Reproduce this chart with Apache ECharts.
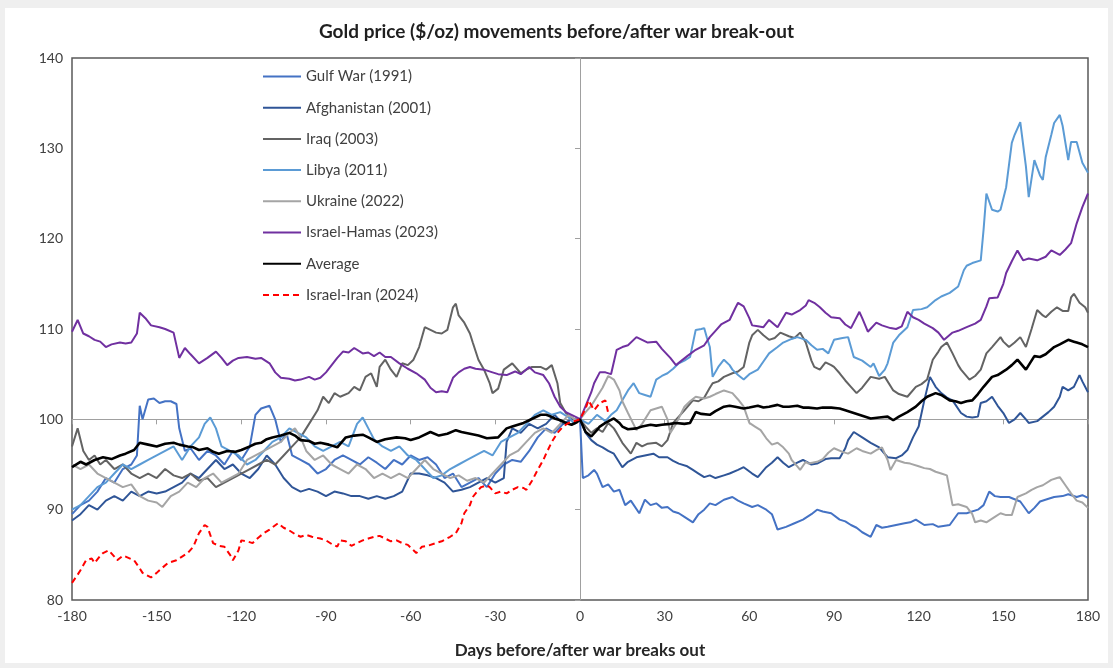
<!DOCTYPE html>
<html>
<head>
<meta charset="utf-8">
<script src="https://cdn.jsdelivr.net/npm/echarts@6.0.0/dist/echarts.min.js"></script>
<style>
html,body{margin:0;padding:0;background:#efefef;}
#chart{width:1113px;height:668px;}
</style>
</head>
<body>
<div id="chart"></div>
<script>
// ---- Data (days relative to war break-out, gold price index = 100 at day 0) ----
const seriesNames = ['Gulf War (1991)','Afghanistan (2001)','Iraq (2003)','Libya (2011)','Ukraine (2022)','Israel-Hamas (2023)','Average','Israel-Iran (2024)'];
const xTicks = [-180,-150,-120,-90,-60,-30,0,30,60,90,120,150,180];
const yTicks = [80,90,100,110,120,130,140];

const gulfWar = [[-180,89.5],[-177,90.5],[-174,91],[-171,92],[-168,93.5],[-165,93],[-162,94.5],[-159,95],[-157,96],[-156,101.5],[-155,100],[-153,102.2],[-151,102.3],[-149,101.8],[-147,102],[-145,102],[-143,101.7],[-142,99],[-140,96.5],[-138,96.8],[-135,95.5],[-132,96.5],[-129,96],[-126,95],[-123,96.5],[-120,95.5],[-117,97],[-115,100.5],[-113,101.2],[-110,101.5],[-108,100],[-106,97.5],[-104,98.5],[-102,96],[-99,95.5],[-96,95],[-93,94],[-90,94.5],[-87,95.5],[-84,96],[-81,95.5],[-78,95],[-75,95.8],[-72,95.2],[-69,94.5],[-66,95.5],[-63,95],[-60,96],[-57,95.5],[-54,95.8],[-51,95],[-48,93.5],[-45,94],[-42,92.5],[-39,93],[-36,93.5],[-33,92.5],[-30,94],[-27,95],[-24,95.5],[-21,95.3],[-18,96.5],[-15,98],[-12,99],[-9,98.5],[-6,99.5],[-3,100],[0,100],
[1,93.5],[3,93.8],[5,94.4],[6,94],[8,92.5],[10,92.8],[12,92.0],[14,92.2],[16,90.5],[18,91],[21,89.6],[23,91.1],[25,90.5],[27,90.7],[29,90.2],[31,90.3],[33,89.8],[35,89.6],[37,89.2],[40,88.6],[42,89.5],[44,90.0],[46,90.7],[48,90.5],[51,91.1],[54,91.4],[56,91],[58,90.7],[61,90.3],[63,90.5],[66,90.0],[68,89.5],[70,87.8],[73,88.1],[76,88.5],[79,88.9],[82,89.5],[84,90.0],[86,89.8],[89,89.6],[92,88.9],[94,88.7],[96,88.3],[98,88],[100,87.5],[103,87.0],[105,88.3],[107,88],[109,88.1],[112,88.3],[115,88.5],[117,88.6],[119,88.9],[122,88.3],[125,88.4],[127,88.1],[131,88.3],[134,89.6],[137,89.6],[141,90.0],[143,90.5],[145,92.0],[147,91.5],[149,91.4],[152,91.4],[156,90.9],[159,89.6],[161,90.2],[163,90.9],[166,91.2],[168,91.4],[171,91.5],[173,91.7],[176,91.4],[178,91.6],[180,91.3]];

const afghanistan = [[-180,88.8],[-177,89.5],[-174,90.5],[-171,90],[-168,91],[-165,91.5],[-162,91],[-159,92],[-156,91.5],[-153,92],[-150,91.8],[-147,92],[-144,92.5],[-141,93],[-138,94],[-135,93.5],[-132,94.5],[-129,95.5],[-126,94.5],[-123,95],[-120,94],[-117,93.5],[-114,94.5],[-111,96],[-108,95],[-105,93.5],[-102,92.5],[-99,92],[-96,92.3],[-93,92],[-90,91.5],[-87,92],[-84,91.8],[-81,91.5],[-78,91.5],[-75,91.2],[-72,91.5],[-69,91.2],[-66,91.5],[-63,92],[-60,94],[-57,94],[-54,93.8],[-51,93.5],[-48,93],[-45,92],[-42,92.2],[-39,92.5],[-36,93],[-33,93.5],[-30,93],[-27,93.5],[-26,97.5],[-24,99],[-21,98.5],[-18,99.5],[-15,99],[-12,99.5],[-9,100.5],[-6,99.5],[-3,100],[0,100],
[2,98.5],[4,97.7],[6,97.2],[8,96.9],[10,96.5],[12,96.2],[15,94.7],[17,95.3],[20,95.8],[23,96.0],[26,96.2],[28,95.8],[31,95.8],[33,95.4],[35,95.1],[38,94.8],[40,94.4],[42,94.0],[44,93.6],[46,93.8],[48,93.5],[51,93.8],[53,94.0],[56,94.4],[58,94.7],[61,94.0],[63,93.6],[66,94.7],[68,95.2],[70,95.8],[72,95.2],[74,94.7],[77,95.2],[79,95.5],[82,95.0],[84,95.1],[87,95.6],[89,95.7],[92,95.7],[94,96.8],[95,97.7],[97,98.6],[100,98.0],[103,97.4],[106,96.9],[109,95.8],[112,95.7],[114,96.0],[116,96.6],[118,98.0],[120,99.2],[122,102.1],[124,104.7],[126,103.6],[128,102.9],[130,102.4],[132,102.1],[135,100.7],[137,100.3],[139,100.2],[141,100.3],[142,101.8],[144,102.0],[146,102.5],[148,101.5],[150,100.7],[152,99.6],[154,100.0],[156,100.7],[158,100.0],[159,99.6],[162,99.8],[164,100.3],[166,100.8],[168,101.4],[170,102.5],[171,103.6],[173,103.2],[175,103.6],[177,104.9],[178,104.2],[180,103.0]];

const iraq = [[-180,97],[-178,99],[-176,96.5],[-174,95.5],[-172,96],[-170,95],[-168,95.5],[-165,94.5],[-162,95],[-159,94],[-156,93.5],[-153,94],[-150,93.5],[-147,94.5],[-144,93.8],[-141,93.5],[-138,94],[-135,93.2],[-132,93.5],[-129,92.5],[-126,93],[-123,93.5],[-120,94],[-117,94.5],[-114,95],[-111,95.5],[-108,95],[-105,96],[-102,97],[-99,98],[-96,99.5],[-93,101],[-91,102.5],[-89,101.8],[-87,102.9],[-85,102.5],[-82,102.9],[-80,103.6],[-78,103.2],[-76,104.7],[-74,105.1],[-72,103.6],[-71,105.8],[-69,106.6],[-67,105.5],[-65,104.7],[-63,106.2],[-61,106],[-59,106.6],[-57,108],[-55,110.2],[-53,109.9],[-51,109.6],[-49,109.5],[-47,109.9],[-45,112.4],[-44,112.8],[-43,111.5],[-41,110.7],[-39,109.5],[-38,108.5],[-36,106.6],[-34,105.5],[-32,104],[-31,102.9],[-29,103.4],[-27,105.5],[-24,106.2],[-21,105.1],[-19,105.5],[-17,105.8],[-14,105.8],[-12,105.5],[-10,106],[-8,104],[-7,101.8],[-5,100.7],[-2,100],[0,100],
[2,99.2],[4,98.5],[6,99.0],[8,98.6],[10,99.6],[12,99.0],[13,98.5],[15,97.4],[18,96.2],[20,97.4],[22,97.0],[24,97.3],[27,97.4],[29,97.0],[31,97.7],[33,99.6],[35,100.3],[37,101.0],[40,102.1],[42,102.0],[44,102.4],[46,103.5],[47,104.0],[49,104.2],[51,104.7],[54,105.1],[56,105.3],[58,105.8],[60,108.5],[61,109.3],[63,109.9],[65,109.3],[67,108.8],[69,109.0],[71,109.6],[74,109.2],[76,109.0],[78,109.6],[80,108.5],[82,106.5],[83,105.8],[85,105.5],[87,106.3],[89,106.0],[90,105.8],[92,105.1],[94,104.3],[96,103.6],[98,102.9],[100,103.5],[103,104.7],[106,104.5],[108,104.7],[111,103.2],[113,102.8],[116,102.5],[119,103.6],[121,103.9],[123,104.4],[125,106.6],[127,107.5],[128,108.0],[130,108.5],[132,107.3],[134,106.0],[135,105.5],[138,104.4],[140,104.8],[142,105.5],[144,107.3],[146,108.0],[149,109.1],[150,108.6],[152,108.0],[154,108.5],[156,109.1],[158,108.0],[160,110.0],[162,112.1],[164,111.5],[165,111.3],[167,111.9],[169,112.4],[171,112.0],[173,112.0],[174,113.5],[175,113.9],[177,112.9],[179,112.4],[180,111.8]];

const libya = [[-180,90],[-177,90.5],[-174,91.5],[-171,92.5],[-168,93],[-165,94],[-162,95],[-159,94.5],[-156,95],[-153,95.5],[-150,96],[-147,96.5],[-144,97],[-141,95.5],[-138,97],[-135,98],[-133,99.5],[-131,100.2],[-129,99],[-127,97],[-124,96.5],[-121,96],[-118,95],[-115,95.5],[-112,96.5],[-109,97.5],[-106,98],[-103,99],[-100,98.5],[-97,98],[-94,97],[-91,96.5],[-88,97],[-85,97.5],[-82,97],[-79,99.5],[-77,100.2],[-75,99],[-73,97.8],[-70,97],[-67,96.5],[-64,97],[-61,96],[-58,95.5],[-55,94.5],[-52,93.5],[-49,93.8],[-46,94.5],[-43,95],[-40,95.5],[-37,96],[-34,96.5],[-31,96],[-28,97.5],[-25,98],[-22,98.5],[-19,99.5],[-16,100.5],[-13,101],[-10,100.5],[-7,100.8],[-4,100.2],[-2,99.5],[0,100],
[3,99.5],[6,100.5],[9,99.8],[11,100.5],[13,101.0],[15,102.1],[17,103.2],[19,104.0],[21,102.9],[23,102.7],[25,102.5],[27,104.4],[29,104.8],[31,105.1],[33,105.6],[35,106.2],[37,106.5],[39,106.9],[41,109.9],[43,110.0],[44,110.1],[45,109.0],[46,108.0],[47,104.7],[49,105.8],[51,106.6],[53,106.0],[54,105.5],[56,104.9],[58,104.4],[60,105.0],[63,105.5],[65,106.4],[67,107.3],[70,108.0],[72,108.5],[75,108.9],[77,109.1],[80,108.8],[82,108.2],[84,107.7],[86,107.8],[88,107.3],[90,108.8],[93,109.0],[95,109.1],[97,106.9],[100,106.5],[103,105.8],[104,106.2],[106,104.8],[108,105.5],[109,106.2],[111,108.5],[113,109.3],[116,110.2],[118,112.1],[121,112.2],[123,112.4],[126,113.2],[128,113.6],[131,114.0],[134,114.7],[136,116.5],[137,117.0],[139,117.3],[142,117.6],[143,121.0],[144,125.0],[146,123.2],[148,123.0],[149,123.2],[151,125.7],[153,130.6],[154,131.5],[156,132.9],[158,128.0],[159,124.6],[161,128.7],[163,127.0],[164,126.5],[165,129.0],[167,131.5],[168,132.8],[170,133.7],[171,132.5],[173,128.7],[174,130.7],[176,130.7],[178,128.4],[180,127.3]];

const ukraine = [[-180,95],[-177,94.5],[-174,95],[-171,94],[-168,93.5],[-165,93],[-162,92.5],[-159,92.8],[-156,91.5],[-153,91],[-150,90.8],[-148,90.3],[-145,91.5],[-142,92],[-139,93],[-136,92.5],[-133,93.5],[-130,94],[-127,93],[-124,93.5],[-121,94],[-118,95.5],[-115,96],[-112,96.5],[-109,97],[-106,97.5],[-103,98.5],[-101,99],[-99,98],[-97,96.5],[-94,95.5],[-91,96],[-88,95],[-85,94.5],[-82,94],[-79,95],[-76,94.5],[-73,93.5],[-70,94],[-67,93.5],[-64,94],[-61,93.5],[-58,94.5],[-55,95.5],[-52,94.5],[-49,94],[-46,93.5],[-43,93.8],[-40,93.2],[-37,93.5],[-34,93],[-31,94],[-28,95],[-25,96],[-22,96.5],[-19,97.5],[-16,98.5],[-13,99],[-10,98.5],[-7,99.5],[-4,100.5],[-2,100],[0,100],
[2,100.8],[4,101.5],[6,102.5],[8,103.5],[10,104.8],[12,104.4],[14,103.2],[15,102],[17,100.7],[20,98.8],[22,99.5],[25,101.0],[27,101.2],[29,101.4],[31,100],[32,98.5],[34,99.5],[37,101.4],[39,102],[41,102.5],[44,102.3],[46,102.5],[48,102.8],[51,103.2],[54,102.9],[56,102.2],[58,101.4],[60,99.6],[62,99.2],[64,98.8],[66,97.9],[68,97.2],[70,97.4],[72,96.9],[74,96.2],[75,95.5],[77,94.8],[78,94.4],[80,95.3],[81,95.1],[84,95.3],[86,95.6],[88,96.3],[90,96.8],[93,96.4],[95,96.2],[98,96.8],[100,96.5],[103,96.2],[105,96.6],[107,96.9],[109,95.5],[110,94.4],[112,95.5],[115,95.2],[117,95.1],[120,94.8],[122,94.6],[124,94.5],[126,94.2],[128,94.0],[130,93.8],[132,90.5],[134,90.6],[137,90.3],[139,89.5],[140,88.6],[142,88.8],[144,88.6],[147,89.2],[149,89.6],[151,89.4],[153,89.4],[155,91.4],[158,91.8],[160,92.2],[162,92.5],[164,92.7],[167,93.3],[169,93.5],[170,93.6],[172,92.7],[174,91.8],[176,91.0],[178,90.8],[180,90.2]];

const israelHamas = [[-180,109.7],[-178,111],[-176,109.5],[-174,109.2],[-172,108.8],[-170,108.6],[-168,108.0],[-166,108.3],[-163,108.5],[-161,108.4],[-159,108.5],[-157,109.5],[-156,111.8],[-154,111.2],[-152,110.4],[-149,110.2],[-147,110.0],[-144,109.6],[-142,106.8],[-140,107.9],[-138,107.2],[-135,106.2],[-132,106.8],[-129,107.5],[-127,106.8],[-125,106.0],[-123,106.5],[-121,106.8],[-118,106.9],[-115,106.7],[-113,106.8],[-110,106.2],[-108,105.2],[-106,104.6],[-103,104.5],[-101,104.3],[-99,104.4],[-96,104.7],[-94,104.4],[-92,104.6],[-90,105.2],[-88,106],[-86,106.8],[-84,107.5],[-82,107.4],[-80,107.9],[-77,107.3],[-75,107.4],[-73,107.0],[-71,107.4],[-69,106.9],[-67,106.9],[-64,106.2],[-61,105.6],[-58,105.1],[-55,104.4],[-53,103.5],[-51,103.0],[-49,103.1],[-47,103.0],[-45,104.6],[-43,105.2],[-41,105.6],[-39,105.8],[-37,105.6],[-34,105.5],[-31,105.2],[-29,105.0],[-26,104.9],[-23,105.3],[-21,105.0],[-18,105.8],[-16,105.2],[-13,104.9],[-11,104.0],[-9,102.5],[-7,101.4],[-5,100.8],[-3,100.5],[-1,100.2],[0,100],
[2,101.5],[4,103],[5,104],[7,105.2],[9,105.2],[11,105],[13,107.7],[15,108],[17,108.2],[20,109.1],[22,108.8],[24,108.5],[27,108.6],[29,107.8],[32,106.8],[34,106.0],[36,106.5],[38,107.0],[41,107.7],[44,108.2],[46,109.1],[48,109.8],[50,110.5],[53,111.0],[55,112.3],[56,112.9],[58,112.5],[60,111.2],[61,110.4],[63,110.3],[65,110.2],[67,111.0],[70,110.2],[73,111.8],[75,111.6],[78,112.1],[80,112.6],[81,113.2],[83,112.9],[85,112.4],[87,111.8],[89,111.3],[92,111.2],[94,110.5],[96,110.1],[99,111.9],[100,111.2],[102,109.7],[105,110.7],[107,110.4],[110,110.1],[112,110.0],[114,110.3],[116,111.9],[118,111.3],[120,111.0],[122,110.6],[125,110.1],[127,109.6],[129,108.8],[132,109.6],[134,109.8],[137,110.2],[140,110.6],[142,111.0],[144,112.5],[145,113.4],[148,113.5],[150,115],[151,116.2],[153,117.5],[155,118.7],[157,117.6],[159,117.8],[162,117.6],[165,118.0],[167,118.7],[170,118.2],[172,118.8],[174,119.5],[176,121.7],[178,123.5],[180,125.0]];

const average = [[-180,94.7],[-177,95.3],[-175,95.0],[-172,95.5],[-169,95.8],[-166,95.6],[-163,96.0],[-161,96.2],[-158,96.6],[-156,97.4],[-153,97.2],[-150,97.0],[-147,97.3],[-144,97.4],[-142,97.2],[-139,97.0],[-137,96.9],[-135,96.6],[-132,96.8],[-130,96.4],[-128,96.2],[-125,96.5],[-122,96.4],[-120,96.6],[-117,97.0],[-115,97.3],[-113,97.4],[-111,97.8],[-109,98.0],[-106,98.2],[-103,98.5],[-101,98.2],[-99,97.7],[-96,97.6],[-94,97.3],[-92,97.4],[-89,97.2],[-86,96.9],[-83,98.0],[-80,98.2],[-77,98.3],[-75,98.0],[-72,97.5],[-69,97.8],[-65,98.0],[-62,97.9],[-60,97.7],[-57,98.0],[-53,98.6],[-50,98.2],[-47,98.4],[-44,98.8],[-42,98.6],[-39,98.4],[-36,98.2],[-33,97.9],[-29,98.0],[-26,99.0],[-24,99.2],[-22,99.4],[-20,99.6],[-18,99.9],[-16,100.2],[-14,100.5],[-12,100.5],[-11,100.4],[-9,100.1],[-7,99.9],[-5,99.6],[-3,99.4],[-1,99.7],[0,100],
[2,98.6],[4,98.1],[6,98.8],[7,99.2],[9,99.6],[12,100.1],[14,99.6],[15,99.2],[17,98.9],[20,99.0],[22,99.2],[25,99.4],[27,99.3],[29,99.4],[32,99.5],[34,99.6],[37,99.5],[39,99.6],[41,100.8],[43,100.6],[46,100.5],[48,100.9],[51,101.4],[53,101.5],[55,101.4],[58,101.2],[60,101.3],[63,101.5],[65,101.3],[67,101.4],[70,101.6],[72,101.4],[74,101.4],[77,101.5],[79,101.3],[81,101.3],[84,101.2],[86,101.3],[89,101.3],[92,101.2],[94,101.0],[97,100.7],[100,100.4],[103,100.1],[106,100.2],[109,100.3],[111,99.9],[113,100.3],[116,100.8],[119,101.4],[121,102.0],[123,102.5],[126,102.9],[128,102.7],[131,102.1],[133,102.0],[135,101.8],[137,102.0],[139,102.1],[141,102.8],[143,103.6],[146,104.7],[148,104.9],[151,105.5],[153,106.0],[155,106.6],[158,105.5],[161,107.0],[163,106.9],[165,107.2],[168,108.0],[170,108.3],[173,108.8],[175,108.6],[176,108.5],[178,108.3],[180,108.0]];

const israelIran = [[-180,81.9],[-178,82.8],[-177,83.3],[-175,84.4],[-173,84.6],[-172,84.1],[-170,84.9],[-169,85.2],[-167,85.5],[-165,84.8],[-164,84.4],[-162,84.9],[-161,84.8],[-158,84.4],[-156,83.5],[-155,83.0],[-152,82.5],[-150,83.0],[-149,83.3],[-146,84.1],[-143,84.4],[-141,84.8],[-139,85.2],[-137,85.9],[-135,87.4],[-133,88.3],[-132,88.1],[-130,86.3],[-128,86.0],[-126,85.9],[-124,85.0],[-123,84.4],[-121,85.5],[-120,86.6],[-118,86.5],[-116,86.3],[-114,86.9],[-112,87.4],[-110,87.8],[-107,88.5],[-105,88.0],[-103,87.7],[-101,87.3],[-99,87.0],[-97,87.2],[-95,87.0],[-92,86.8],[-90,86.6],[-88,86.2],[-86,85.9],[-85,86.6],[-83,86.5],[-81,86.0],[-79,86.3],[-77,86.6],[-75,86.8],[-73,87.0],[-71,87.1],[-69,86.8],[-67,86.5],[-65,86.6],[-63,86.3],[-61,86.1],[-59,85.5],[-58,85.2],[-56,85.9],[-54,86.0],[-51,86.3],[-49,86.5],[-46,87.0],[-44,87.4],[-42,88.5],[-41,89.6],[-39,90.5],[-38,91.4],[-36,92.2],[-35,92.5],[-33,92.7],[-32,92.5],[-30,91.8],[-28,92.0],[-26,91.8],[-24,92.2],[-22,92.5],[-20,92.4],[-19,92.2],[-17,93.2],[-15,94.4],[-13,95.5],[-12,96.2],[-10,97.5],[-8,98.5],[-6,99.2],[-4,99.6],[-2,99.8],[0,100],[2,101.2],[3,102.1],[5,101.0],[7,101.8],[9,102.1],[10,100.7]];

const seriesData = [gulfWar, afghanistan, iraq, libya, ukraine, israelHamas, average, israelIran];
const seriesColors = ['#4472C4','#2F5597','#636363','#5B9BD5','#A5A5A5','#7030A0','#000000','#FF0000'];

const FONT = 'Lato, "Open Sans", "Noto Sans", sans-serif';
const chart = echarts.init(document.getElementById('chart'), null, {renderer:'canvas'});

const series = seriesNames.map((name, i) => ({
  name: name,
  type: 'line',
  xAxisIndex: 0,
  yAxisIndex: 0,
  data: seriesData[i],
  showSymbol: false,
  symbol: 'none',
  smooth: false,
  silent: true,
  z: 3 + i,
  lineStyle: {
    color: seriesColors[i],
    width: name === 'Average' ? 2.6 : 2,
    type: name === 'Israel-Iran (2024)' ? [6, 4] : 'solid'
  },
  itemStyle: {color: seriesColors[i]}
}));

const option = {
  animation: false,
  backgroundColor: '#efefef',
  textStyle: {fontFamily: FONT},
  graphic: {
    elements: [{
      type: 'rect', silent: true, z: -100,
      shape: {x: 5, y: 8, width: 1103, height: 655},
      style: {fill: '#ffffff'}
    }]
  },
  title: {
    text: 'Gold price ($/oz) movements before/after war break-out',
    left: 'center',
    top: 17,
    textStyle: {fontFamily: FONT, fontSize: 19, fontWeight: 'bold', color: '#1f1f1f'}
  },
  legend: {
    data: seriesNames,
    orient: 'vertical',
    left: 257,
    top: 64,
    itemWidth: 38,
    itemHeight: 16,
    itemGap: 16.2,
    itemStyle: {opacity: 0},
    textStyle: {fontFamily: FONT, fontSize: 15, color: '#404040'},
    selectedMode: false
  },
  grid: {
    left: 72, right: 25, top: 58, bottom: 68,
    show: true,
    borderColor: '#595959',
    borderWidth: 1.5,
    backgroundColor: 'transparent',
    containLabel: false
  },
  xAxis: [
    {
      type: 'value', min: xTicks[0], max: xTicks[xTicks.length - 1], interval: 30,
      position: 'bottom',
      axisLine: {show: false, onZero: false},
      axisTick: {show: false},
      splitLine: {show: false},
      axisLabel: {color: '#404040', fontSize: 14, margin: 9, fontFamily: FONT},
      name: 'Days before/after war breaks out',
      nameLocation: 'middle',
      nameGap: 42,
      nameTextStyle: {color: '#262626', fontSize: 17, fontWeight: 'bold', fontFamily: FONT}
    },
    {
      type: 'value', min: xTicks[0], max: xTicks[xTicks.length - 1], interval: 30,
      position: 'bottom',
      axisLine: {show: true, onZero: true, onZeroAxisIndex: 1, lineStyle: {color: '#a0a0a0', width: 1}},
      axisTick: {show: true, length: 5, lineStyle: {color: '#a0a0a0'}},
      axisLabel: {show: false},
      splitLine: {show: false}
    }
  ],
  yAxis: [
    {
      type: 'value', min: yTicks[0], max: yTicks[yTicks.length - 1], interval: 10,
      axisLine: {show: false},
      axisTick: {show: false},
      splitLine: {show: false},
      axisLabel: {color: '#404040', fontSize: 14, margin: 9, fontFamily: FONT}
    },
    {
      type: 'value', min: yTicks[0] - 100, max: yTicks[yTicks.length - 1] - 100, interval: 10,
      position: 'left',
      axisLine: {show: true, onZero: true, onZeroAxisIndex: 0, lineStyle: {color: '#a0a0a0', width: 1}},
      axisTick: {show: true, length: 5, lineStyle: {color: '#a0a0a0'}},
      axisLabel: {show: false},
      splitLine: {show: false}
    }
  ],
  series: series
};
chart.setOption(option);
</script>
</body>
</html>
